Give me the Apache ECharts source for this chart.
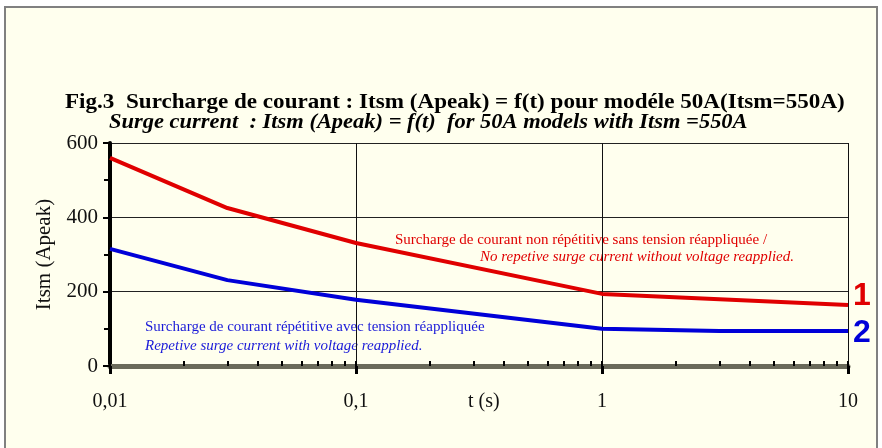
<!DOCTYPE html>
<html><head><meta charset="utf-8">
<script src="https://cdn.jsdelivr.net/npm/echarts@6/dist/echarts.min.js"></script>
<style>
html,body{margin:0;padding:0;background:#fff;width:882px;height:448px;overflow:hidden;}
#frame{position:absolute;left:4px;top:6px;width:870px;height:470px;border:2px solid #808080;background:#FFFFEE;}
#chart{position:absolute;left:0;top:0;width:882px;height:448px;}
</style></head>
<body>
<div id="frame"></div>
<div id="chart"></div>
<script>
// ---- data ----
const redSeriesName = 'Surcharge non répétitive';
const redT = [0.01, 0.03, 0.1, 1, 10];
const redI = [560, 425, 331, 194, 164];
const blueSeriesName = 'Surcharge répétitive';
const blueT = [0.01, 0.03, 0.1, 1, 3, 10];
const blueI = [315, 231, 178, 100, 94, 94];
const xTickValues = [0.01, 0.1, 1, 10];
const xTickLabels = ['0,01', '0,1', '1', '10'];
const xMinorTicks = [0.02,0.03,0.04,0.05,0.06,0.07,0.08,0.09,0.2,0.3,0.4,0.5,0.6,0.7,0.8,0.9,2,3,4,5,6,7,8,9];
const yTickLabels = ['0', '200', '400', '600'];
const xAxisTitle = 't (s)';
const yAxisTitle = 'Itsm (Apeak)';
const titleLine1 = 'Fig.3  Surcharge de courant : Itsm (Apeak) = f(t) pour modéle 50A(Itsm=550A)';
const titleLine2 = 'Surge current  : Itsm (Apeak) = f(t)  for 50A models with Itsm =550A';
const redNote1 = 'Surcharge de courant non répétitive sans tension réappliquée /';
const redNote2 = 'No repetive surge current without voltage reapplied.';
const blueNote1 = 'Surcharge de courant répétitive avec tension réappliquée';
const blueNote2 = 'Repetive surge current with voltage reapplied.';

const RED = '#E00000', BLUE = '#0000D8';
const SERIF = '"Liberation Serif","Times New Roman",serif';

const chart = echarts.init(document.getElementById('chart'), null, {renderer:'canvas'});
function fmtX(v){
  const k = Math.round(Math.log10(v));
  for (let i=0;i<xTickValues.length;i++){ if (Math.round(Math.log10(xTickValues[i]))===k) return xTickLabels[i]; }
  return '';
}
const option = {
  backgroundColor: 'transparent',
  animation: false,
  grid: {left:110, right:34, top:143, bottom:82, containLabel:false},
  xAxis: [{
    type:'log', logBase:10, min:0.01, max:10,
    axisLine:{show:true, lineStyle:{color:'#6a6a5a', width:5}},
    axisTick:{show:true, length:8, lineStyle:{color:'#000', width:3}},
    axisLabel:{formatter:fmtX, fontFamily:SERIF, fontSize:20, color:'#111', margin:26},
    splitLine:{show:true, lineStyle:{color:'#111', width:1}},
    minorTick:{show:false}, minorSplitLine:{show:false}
  },{
    type:'log', logBase:10, min:0.01, max:10, position:'bottom',
    axisLine:{show:false},
    axisTick:{show:true, inside:true, length:5, customValues: xMinorTicks.concat(xTickValues), lineStyle:{color:'#000', width:2}},
    axisLabel:{show:false}, splitLine:{show:false}
  }],
  yAxis: {
    type:'value', min:0, max:600, interval:200,
    name:yAxisTitle, nameLocation:'middle', nameGap:55, nameRotate:90,
    nameTextStyle:{fontFamily:SERIF, fontSize:21, color:'#111'},
    axisLine:{show:true, lineStyle:{color:'#000', width:4}},
    axisTick:{show:true, length:7, lineStyle:{color:'#000', width:2}},
    minorTick:{show:true, splitNumber:2, length:6, lineStyle:{color:'#000', width:2}},
    axisLabel:{fontFamily:SERIF, fontSize:21, color:'#111', margin:12,
      formatter: v => yTickLabels.find(s => +s === v) || ''},
    splitLine:{show:true, lineStyle:{color:'#222', width:1}}
  },
  series: [{
    name: redSeriesName, type:'line', xAxisIndex:0,
    data: redT.map((t,i)=>[t, redI[i]]),
    showSymbol:false, lineStyle:{color:RED, width:4}, itemStyle:{color:RED}, z:3
  },{
    name: blueSeriesName, type:'line', xAxisIndex:0,
    data: blueT.map((t,i)=>[t, blueI[i]]),
    showSymbol:false, lineStyle:{color:BLUE, width:4}, itemStyle:{color:BLUE}, z:3
  }],
  graphic: [
    {type:'text', x:65, y:91, scaleX:1.05, style:{text:titleLine1, font:'bold 22px '+SERIF, fill:'#000'}},
    {type:'text', x:109, y:112, scaleX:1.07, style:{text:titleLine2, font:'italic bold 21px '+SERIF, fill:'#000'}},
    {type:'text', x:468, y:392, style:{text:xAxisTitle, font:'20px '+SERIF, fill:'#111'}},
    {type:'text', x:395, y:233, style:{text:redNote1, font:'15px '+SERIF, fill:RED}},
    {type:'text', x:480, y:250, style:{text:redNote2, font:'italic 15px '+SERIF, fill:RED}},
    {type:'text', x:145, y:320, style:{text:blueNote1, font:'15px '+SERIF, fill:'#1a1ad8'}},
    {type:'text', x:145, y:339, style:{text:blueNote2, font:'italic 15px '+SERIF, fill:'#1a1ad8'}},
    {type:'text', x:853, y:280, style:{text:'1', font:'bold 32px "Liberation Sans",Arial,sans-serif', fill:RED}},
    {type:'text', x:853, y:317, style:{text:'2', font:'bold 32px "Liberation Sans",Arial,sans-serif', fill:BLUE}}
  ]
};
chart.setOption(option);
</script>
</body></html>
